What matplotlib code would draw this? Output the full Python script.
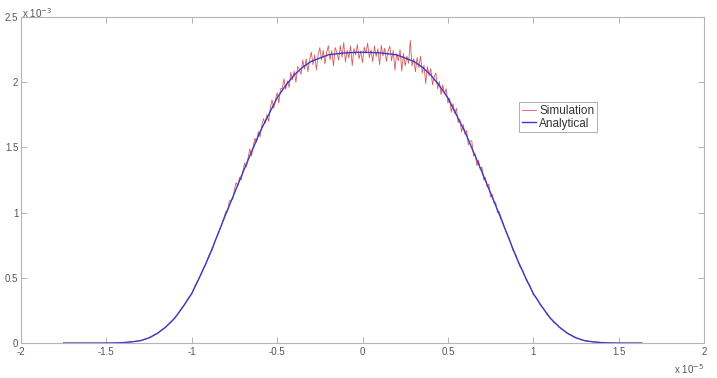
import matplotlib
matplotlib.use("Agg")
import matplotlib.pyplot as plt

plt.rcParams['font.family'] = ['Liberation Sans', 'DejaVu Sans']

# Analytical curve (x in units of 1e-5, y in units of 1e-3)
ana_x = [-1.75, -1.5, -1.45, -1.4, -1.35, -1.3, -1.25, -1.2, -1.15, -1.1, -1.05, -1.0,
         -0.95, -0.9, -0.85, -0.8, -0.75, -0.7, -0.65, -0.6, -0.55, -0.5, -0.45, -0.4,
         -0.35, -0.3, -0.25, -0.2, -0.15, -0.1, -0.05, 0.0, 0.05, 0.1, 0.15, 0.2, 0.25,
         0.3, 0.35, 0.4, 0.45, 0.5, 0.55, 0.6, 0.65, 0.7, 0.75, 0.8, 0.85, 0.9, 0.95,
         1.0, 1.05, 1.1, 1.15, 1.2, 1.25, 1.3, 1.35, 1.4, 1.45, 1.5, 1.635]
ana_y = [0.0, 0.0, 0.001, 0.003, 0.009, 0.018, 0.04, 0.075, 0.125, 0.19, 0.28, 0.38,
         0.515, 0.66, 0.825, 0.99, 1.15, 1.31, 1.465, 1.62, 1.75, 1.88, 1.975, 2.055,
         2.115, 2.16, 2.185, 2.21, 2.218, 2.225, 2.228, 2.23, 2.228, 2.225, 2.218, 2.21, 2.185,
         2.16, 2.115, 2.055, 1.975, 1.88, 1.75, 1.62, 1.465, 1.31, 1.15, 0.99, 0.825, 0.66, 0.515,
         0.38, 0.28, 0.19, 0.125, 0.075, 0.04, 0.018, 0.009, 0.003, 0.001, 0.0, 0.0]

# Simulation (noisy histogram)
sim_x_left = [round(-1.40 + 0.02 * i, 2) for i in range(30)]     # -1.40 .. -0.82
sim_x_mid = [round(-0.80 + 0.01 * i, 2) for i in range(161)]     # -0.80 .. 0.80
sim_x_right = [round(0.82 + 0.02 * i, 2) for i in range(30)]     # 0.82 .. 1.40

sim_y_left = [0.003, 0.004, 0.009, 0.011, 0.014, 0.019, 0.026, 0.034, 0.044, 0.060,
              0.073, 0.097, 0.112, 0.140, 0.160, 0.195, 0.222, 0.268, 0.297, 0.346,
              0.375, 0.442, 0.490, 0.548, 0.598, 0.672, 0.715, 0.795, 0.852, 0.928]
sim_y_mid = [1.01, 1.01, 1.09, 1.095, 1.10, 1.18, 1.23, 1.205, 1.27, 1.25,
             1.32, 1.38, 1.35, 1.42, 1.49, 1.435, 1.51, 1.57, 1.54, 1.62,
             1.58, 1.665, 1.72, 1.685, 1.75, 1.70, 1.80, 1.865, 1.80, 1.865,
             1.92, 1.84, 1.95, 1.95, 2.025, 1.945, 2.01, 1.96, 2.075, 2.02,
             2.085, 2.00, 2.12, 2.10, 2.06, 2.17, 2.10, 2.18, 2.08, 2.17,
             2.23, 2.135, 2.21, 2.095, 2.21, 2.265, 2.17, 2.245, 2.14, 2.225,
             2.28, 2.172, 2.243, 2.125, 2.266, 2.228, 2.169, 2.28, 2.192, 2.303,
             2.155, 2.246, 2.187, 2.278, 2.128, 2.258, 2.209, 2.289, 2.18, 2.24,
             2.15,
             2.27, 2.22, 2.299, 2.189, 2.248, 2.158, 2.278, 2.197, 2.256, 2.135,
             2.283, 2.202, 2.26, 2.159, 2.238, 2.276, 2.165, 2.243, 2.092, 2.22,
             2.165, 2.25, 2.085, 2.22, 2.125, 2.20, 2.145, 2.32, 2.125, 2.18,
             2.08, 2.19, 2.11, 2.20, 2.07, 2.13, 1.99, 2.12, 2.05, 2.105,
             1.98, 2.045, 2.07, 1.95, 2.005, 1.905, 1.98, 1.91, 1.95, 1.84,
             1.875, 1.77, 1.835, 1.76, 1.80, 1.69, 1.715, 1.62, 1.675, 1.60,
             1.63, 1.52, 1.55, 1.55, 1.435, 1.45, 1.36, 1.40, 1.33, 1.35,
             1.25, 1.27, 1.195, 1.22, 1.12, 1.14, 1.075, 1.08, 1.00, 1.01]
sim_y_right = [0.935, 0.852, 0.801, 0.712, 0.671, 0.588, 0.552, 0.478, 0.441, 0.372,
               0.346, 0.292, 0.266, 0.219, 0.194, 0.158, 0.141, 0.111, 0.096, 0.072,
               0.060, 0.043, 0.035, 0.024, 0.019, 0.013, 0.011, 0.007, 0.006, 0.003]

sim_x = sim_x_left + sim_x_mid + sim_x_right
sim_y = sim_y_left + sim_y_mid + sim_y_right

xticks = [-2, -1.5, -1, -0.5, 0, 0.5, 1, 1.5, 2]
xtick_labels = ['-2', '-1.5', '-1', '-0.5', '0', '0.5', '1', '1.5', '2']
yticks = [0, 0.5, 1, 1.5, 2, 2.5]
ytick_labels = ['0', '0.5', '1', '1.5', '2', '2.5']

fig = plt.figure(figsize=(7.17, 3.78), dpi=100)
ax = fig.add_axes([21/717, 35/378, 683/717, 326/378])

ax.plot(sim_x, sim_y, color='#d43c3c', lw=0.6, alpha=0.85, label='Simulation')
ax.plot(ana_x, ana_y, color='#3a3ac8', lw=1.0, label='Analytical')

ax.set_xlim(-2, 2)
ax.set_ylim(0, 2.5)
ax.set_xticks(xticks)
ax.set_xticklabels(xtick_labels)
ax.set_yticks(yticks)
ax.set_yticklabels(ytick_labels)

gray = '#b4b4b4'
for s in ax.spines.values():
    s.set_color(gray)
    s.set_linewidth(0.8)
ax.tick_params(direction='in', length=4, width=0.7, color=gray, labelcolor='#555555',
               labelsize=7, top=True, right=True, pad=3)
ax.tick_params(axis='y', pad=2)

fig.text(22/717, 1 - 13/378, r'x 10$^{-3}$', fontsize=7, color='#555555', va='center', ha='left')
fig.text(674/717, 1 - 369/378, r'x 10$^{-5}$', fontsize=7, color='#555555', va='center', ha='left')

leg = ax.legend(loc='upper left', bbox_to_anchor=((519 - 21) / 683, 1 - (102 - 17) / 326),
                bbox_transform=ax.transAxes, fontsize=8.5, frameon=True, fancybox=False,
                handlelength=1.2, handletextpad=0.25, borderpad=0.25, labelspacing=0.05,
                borderaxespad=0)
leg.get_frame().set_edgecolor('#999999')
leg.get_frame().set_linewidth(0.7)
for t in leg.get_texts():
    t.set_color('#333333')

fig.savefig('out.png', dpi=100)
